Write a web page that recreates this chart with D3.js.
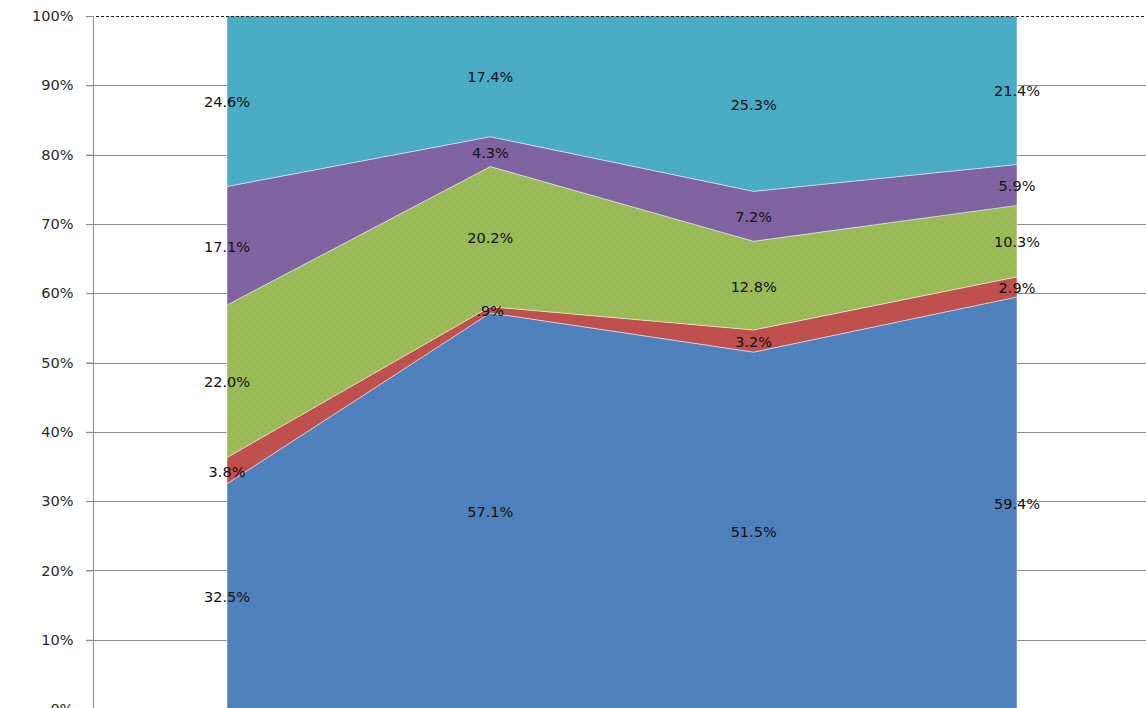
<!DOCTYPE html>
<html><head><meta charset="utf-8">
<script src="https://cdn.jsdelivr.net/npm/d3@7"></script>
<style>html,body{margin:0;padding:0;background:#fff;overflow:hidden}</style>
</head><body>
<svg id="c" width="1146" height="708"></svg>
<script>
const categories = ["A", "B", "C", "D"];
const seriesNames = ["s1", "s2", "s3", "s4", "s5"];
const s1 = [32.5, 57.1, 51.5, 59.4];
const s2 = [3.8, 0.9, 3.2, 2.9];
const s3 = [22.0, 20.2, 12.8, 10.3];
const s4 = [17.1, 4.3, 7.2, 5.9];
const s5 = [24.6, 17.4, 25.3, 21.4];
const labels1 = ["32.5%", "57.1%", "51.5%", "59.4%"];
const labels2 = ["3.8%", ".9%", "3.2%", "2.9%"];
const labels3 = ["22.0%", "20.2%", "12.8%", "10.3%"];
const labels4 = ["17.1%", "4.3%", "7.2%", "5.9%"];
const labels5 = ["24.6%", "17.4%", "25.3%", "21.4%"];
const yTicks = [0, 10, 20, 30, 40, 50, 60, 70, 80, 90, 100];
const colors = ["#4F81BD", "#C0504D", "#9BBB59", "#8064A2", "#4BACC6"];

const allSeries = [s1, s2, s3, s4, s5];
const allLabels = [labels1, labels2, labels3, labels4, labels5];
const table = categories.map((c, i) => {
  const row = {cat: c};
  let tot = 0;
  allSeries.forEach(s => tot += s[i]);
  seriesNames.forEach((n, k) => row[n] = allSeries[k][i] / tot * 100);
  return row;
});

const svg = d3.select("#c");
const x = d3.scalePoint().domain(categories).range([227, 1017]);
const y = d3.scaleLinear().domain([0, 100]).range([709, 16]);

const defs = svg.append("defs");
colors.forEach((col, k) => {
  const p = defs.append("pattern").attr("id", "pat" + k).attr("patternUnits", "userSpaceOnUse")
    .attr("width", 8).attr("height", 8);
  p.append("rect").attr("width", 8).attr("height", 8).attr("fill", col);
  const dk = d3.color(col).darker(0.6);
  p.append("rect").attr("x", 1).attr("y", 1).attr("width", 1).attr("height", 1).attr("fill", dk).attr("opacity", 0.7);
  p.append("rect").attr("x", 5).attr("y", 5).attr("width", 1).attr("height", 1).attr("fill", dk).attr("opacity", 0.7);
});

// gridlines
const grid = svg.append("g");
yTicks.filter(t => t > 0 && t < 100).forEach(t => {
  grid.append("line").attr("x1", 86).attr("x2", 1146).attr("y1", Math.round(y(t)) + 0.5).attr("y2", Math.round(y(t)) + 0.5)
    .attr("stroke", "#8c8c8c").attr("stroke-width", 1);
});

const stack = d3.stack().keys(seriesNames);
const stacked = stack(table);
const area = d3.area().x(d => x(d.data.cat)).y0(d => y(d[0])).y1(d => y(d[1]));
svg.append("g").selectAll("path").data(stacked).join("path")
  .attr("d", area).attr("fill", (d, k) => "url(#pat" + k + ")")
  .attr("stroke", "rgba(255,255,255,0.45)").attr("stroke-width", 1);

// top line dashed
svg.append("line").attr("x1", 86).attr("x2", 1146).attr("y1", Math.round(y(100)) + 0.5).attr("y2", Math.round(y(100)) + 0.5)
  .attr("stroke", "#222").attr("stroke-width", 1).attr("stroke-dasharray", "3,2");
// y axis
const yAxis = d3.axisLeft(y).tickValues(yTicks).tickFormat(d => d + "%").tickSize(7).tickPadding(13);
const ga = svg.append("g").attr("transform", "translate(93.5,0)").call(yAxis);
ga.select(".domain").attr("stroke", "#8c8c8c").attr("d", "M0,16V709");
ga.selectAll(".tick line").attr("stroke", "#8c8c8c");
ga.selectAll(".tick text").attr("font-family", "'DejaVu Sans', Verdana, sans-serif").attr("font-size", 14.5)
  .attr("fill", "#2a2a2a").attr("dy", "0.32em");

// labels
const lg = svg.append("g").attr("font-family", "'DejaVu Sans', Verdana, sans-serif").attr("font-size", 14.5)
  .attr("fill", "#111").attr("text-anchor", "middle");
stacked.forEach((layer, k) => {
  layer.forEach((d, i) => {
    lg.append("text").attr("x", x(d.data.cat)).attr("y", y((d[0] + d[1]) / 2) + 6).text(allLabels[k][i]);
  });
});
</script>
</body></html>
